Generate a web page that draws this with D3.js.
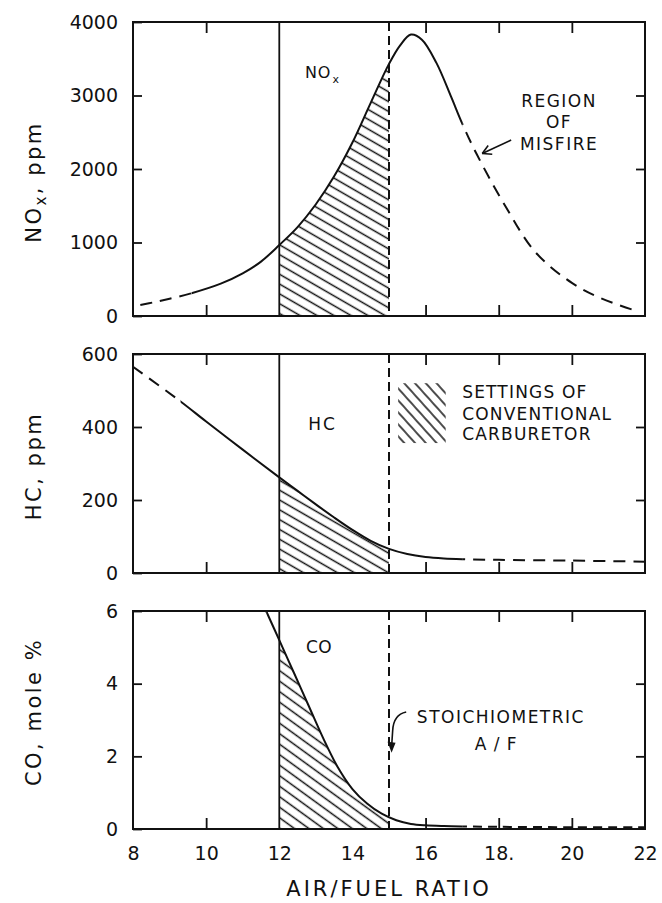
<!DOCTYPE html>
<html><head><meta charset="utf-8">
<script src="https://cdn.jsdelivr.net/npm/d3@7"></script>
<style>
body{margin:0;background:#fff}
text{font-family:"DejaVu Sans",sans-serif;fill:#111}
</style>
</head><body>
<svg id="c" width="662" height="903"></svg>
<script>
// ---------- data ----------
const afrTicks = [8, 10, 12, 14, 16, 18, 20, 22];
const afrTickLabels = ["8", "10", "12", "14", "16", "18.", "20", "22"];
const frameTicksX = [10, 16, 18, 20];
const richLimit = 12;     // solid vertical line
const stoichAF = 15;      // dashed vertical line

const noxX   = [8.2, 8.6, 9.0, 9.6, 10.4, 11.0, 11.5, 12.0, 12.5, 13.0, 13.5, 14.0, 14.5, 15.0, 15.3, 15.6, 15.9, 16.3, 16.7, 17.0, 17.4, 18.2, 19.0, 20.0, 20.8, 21.7];
const noxPpm = [150, 190, 235, 310, 440, 580, 740, 965, 1210, 1520, 1900, 2360, 2900, 3430, 3680, 3830, 3760, 3440, 2980, 2620, 2200, 1480, 870, 450, 240, 80];
const noxSolid = [9.6, 17.0];
const noxTicks = [0, 1000, 2000, 3000, 4000];
const noxInner = [1000, 2000, 3000];

const hcX   = [8.0, 9.3, 10.0, 11.0, 12.0, 12.5, 13.0, 13.5, 14.0, 14.5, 15.0, 15.5, 16.0, 16.5, 17.0, 18.0, 20.0, 22.0];
const hcPpm = [565, 470, 415, 338, 262, 225, 188, 152, 118, 88, 66, 52, 44, 40, 38, 36, 34, 31];
const hcSolid = [9.3, 17.0];
const hcTicks = [0, 200, 400, 600];
const hcInner = [200, 400];

const coX   = [11.64, 12.0, 12.4, 12.8, 13.2, 13.6, 14.0, 14.4, 14.8, 15.2, 15.6, 16.0, 16.5, 17.0, 18.0, 20.0, 22.0];
const coPct = [6.0, 5.2, 4.3, 3.4, 2.5, 1.7, 1.1, 0.7, 0.42, 0.24, 0.14, 0.1, 0.08, 0.07, 0.06, 0.05, 0.05];
const coSolid = [11.64, 17.0];
const coTicks = [0, 2, 4, 6];
const coInner = [2, 4];

// ---------- layout ----------
const svg = d3.select("#c");
const X0 = 133, X1 = 645;
const x = d3.scaleLinear().domain([8, 22]).range([X0, X1]);
const defs = svg.append("defs");
const ink = "#111";
const smooth = d3.curveCatmullRom.alpha(0.5);

function hatch(id, angle, gap) {
  const p = defs.append("pattern").attr("id", id)
    .attr("patternUnits", "userSpaceOnUse")
    .attr("width", gap).attr("height", gap)
    .attr("patternTransform", `rotate(${angle})`);
  p.append("line").attr("x1", -1).attr("x2", gap + 1)
    .attr("y1", gap / 2).attr("y2", gap / 2)
    .attr("stroke", ink).attr("stroke-width", 1.5);
}
hatch("hNox", 30, 8.5);
hatch("hHc", 30, 8.5);
hatch("hCo", 36, 8.5);
hatch("hLeg", 48, 8);

function clipRect(id, x0, x1, top, bottom) {
  defs.append("clipPath").attr("id", id).append("rect")
    .attr("x", x0).attr("y", top - 2).attr("width", x1 - x0).attr("height", bottom - top + 4);
}

function panel(cfg) {
  const y = d3.scaleLinear().domain(cfg.domain).range([cfg.bottom, cfg.top]);
  const g = svg.append("g");
  const pts = cfg.xs.map((d, i) => [d, cfg.vs[i]]);

  // hatched region between rich limit and stoichiometric
  clipRect(cfg.id + "H", x(richLimit), x(stoichAF), cfg.top, cfg.bottom);
  const area = d3.area().x(d => x(d[0])).y0(y(0)).y1(d => y(d[1])).curve(smooth);
  g.append("path").datum(pts).attr("d", area)
    .attr("fill", `url(#${cfg.hatch})`).attr("clip-path", `url(#${cfg.id}H)`);

  // curve: solid and dashed pieces
  const line = d3.line().x(d => x(d[0])).y(d => y(d[1])).curve(smooth);
  clipRect(cfg.id + "S", x(cfg.solid[0]), x(cfg.solid[1]), cfg.top, cfg.bottom);
  clipRect(cfg.id + "DL", X0, x(cfg.solid[0]), cfg.top, cfg.bottom);
  clipRect(cfg.id + "DR", x(cfg.solid[1]), X1, cfg.top, cfg.bottom);
  g.append("path").datum(pts).attr("d", line).attr("fill", "none")
    .attr("stroke", ink).attr("stroke-width", 2).attr("clip-path", `url(#${cfg.id}S)`);
  ["DL", "DR"].forEach(k => {
    g.append("path").datum(pts).attr("d", line).attr("fill", "none")
      .attr("stroke", ink).attr("stroke-width", 2).attr("stroke-dasharray", cfg.dash)
      .attr("clip-path", `url(#${cfg.id}${k})`);
  });

  // vertical reference lines
  g.append("line").attr("x1", x(richLimit)).attr("x2", x(richLimit))
    .attr("y1", cfg.top).attr("y2", cfg.bottom).attr("stroke", ink).attr("stroke-width", 1.8);
  g.append("line").attr("x1", x(stoichAF)).attr("x2", x(stoichAF))
    .attr("y1", cfg.top).attr("y2", cfg.bottom).attr("stroke", ink).attr("stroke-width", 2)
    .attr("stroke-dasharray", "9,5");

  // axes (inward ticks)
  const la = g.append("g").attr("transform", `translate(${X0},0)`)
    .call(d3.axisLeft(y).tickValues(cfg.ticks).tickSize(-9).tickPadding(15).tickFormat(d => String(d)));
  const ra = g.append("g").attr("transform", `translate(${X1},0)`)
    .call(d3.axisRight(y).tickValues(cfg.inner).tickSize(-9).tickFormat(""));
  const ta = g.append("g").attr("transform", `translate(0,${cfg.top})`)
    .call(d3.axisTop(x).tickValues(frameTicksX).tickSize(-11).tickFormat(""));
  const ba = g.append("g").attr("transform", `translate(0,${cfg.bottom})`)
    .call(d3.axisBottom(x).tickValues(frameTicksX).tickSize(-11).tickFormat(""));
  [la, ra, ta, ba].forEach(a => {
    a.select(".domain").remove();
    a.selectAll(".tick line").attr("stroke", ink).attr("stroke-width", 1.8);
    a.selectAll("text").attr("font-size", 19).attr("fill", ink)
      .style("font-family", '"DejaVu Sans",sans-serif');
  });

  // frame
  g.append("rect").attr("x", X0).attr("y", cfg.top)
    .attr("width", X1 - X0).attr("height", cfg.bottom - cfg.top)
    .attr("fill", "none").attr("stroke", ink).attr("stroke-width", 2);

  // y title
  const t = g.append("text").attr("text-anchor", "middle")
    .attr("transform", `translate(41,${cfg.titleY}) rotate(-90)`)
    .attr("font-size", 21).attr("letter-spacing", 2.5);
  cfg.title(t);
  return y;
}

const yNox = panel({id: "nox", top: 22, bottom: 316, domain: [0, 4000], xs: noxX, vs: noxPpm,
  solid: noxSolid, ticks: noxTicks, inner: noxInner, hatch: "hNox", dash: "12,8", titleY: 182,
  title: t => { t.append("tspan").text("NO"); t.append("tspan").attr("font-size", 15).attr("dy", 5).text("x");
                t.append("tspan").attr("dy", -5).text(", ppm"); }});
const yHc = panel({id: "hc", top: 354, bottom: 573, domain: [0, 600], xs: hcX, vs: hcPpm,
  solid: hcSolid, ticks: hcTicks, inner: hcInner, hatch: "hHc", dash: "12,8", titleY: 466,
  title: t => t.text("HC, ppm") });
const yCo = panel({id: "co", top: 611, bottom: 829, domain: [0, 6], xs: coX, vs: coPct,
  solid: coSolid, ticks: coTicks, inner: coInner, hatch: "hCo", dash: "9,6", titleY: 712,
  title: t => t.text("CO, mole %") });

// x tick labels and title
const xa = svg.append("g").attr("transform", "translate(0,829)")
  .call(d3.axisBottom(x).tickValues(afrTicks).tickSize(0).tickPadding(18)
    .tickFormat((d, i) => afrTickLabels[i]));
xa.select(".domain").remove();
xa.selectAll("text").attr("font-size", 19).attr("fill", ink).style("font-family", '"DejaVu Sans",sans-serif');
svg.append("text").attr("x", x(15)).attr("y", 896).attr("text-anchor", "middle")
  .attr("font-size", 21).attr("letter-spacing", 3).text("AIR/FUEL RATIO");

// ---------- annotations ----------
function label(txt, xv, yv, yScale, opts = {}) {
  return svg.append("text").attr("x", x(xv)).attr("y", yScale(yv))
    .attr("text-anchor", opts.anchor || "start").attr("font-size", opts.size || 17)
    .attr("letter-spacing", opts.ls == null ? 1 : opts.ls).text(txt);
}
// NOx label
const nl = label("NO", 12.7, 3240, yNox, {size: 16});
nl.append("tspan").attr("font-size", 11).attr("dx", 1).attr("dy", 5).text("x");
// Misfire
label("REGION", 19.65, 2842, yNox, {anchor: "middle", ls: 1.5});
label("OF", 19.65, 2557, yNox, {anchor: "middle", ls: 1.5});
label("MISFIRE", 19.65, 2258, yNox, {anchor: "middle", ls: 1.5});
{
  const tx = x(18.34), ty = yNox(2394), hx = x(17.55), hy = yNox(2210);
  svg.append("line").attr("x1", tx).attr("y1", ty).attr("x2", hx).attr("y2", hy)
    .attr("stroke", ink).attr("stroke-width", 1.6);
  const ang = Math.atan2(ty - hy, tx - hx);
  [0.5, -0.5].forEach(da => {
    svg.append("line").attr("x1", hx).attr("y1", hy)
      .attr("x2", hx + 10 * Math.cos(ang + da)).attr("y2", hy + 10 * Math.sin(ang + da))
      .attr("stroke", ink).attr("stroke-width", 1.6);
  });
}
// HC label + legend
label("HC", 12.79, 392, yHc, {size: 17, ls: 2});
svg.append("rect").attr("x", x(15.25)).attr("y", yHc(520))
  .attr("width", x(16.55) - x(15.25)).attr("height", yHc(356) - yHc(520))
  .attr("fill", "url(#hLeg)");
label("SETTINGS OF", 17.0, 480, yHc, {ls: 1.2});
label("CONVENTIONAL", 17.0, 419, yHc, {ls: 1.2});
label("CARBURETOR", 17.0, 364, yHc, {ls: 1.2});
// CO label + stoichiometric
label("CO", 12.73, 4.84, yCo, {size: 17, ls: 0.5});
label("STOICHIOMETRIC", 18.06, 2.92, yCo, {anchor: "middle", ls: 1.5});
label("A / F", 17.93, 2.17, yCo, {anchor: "middle", ls: 1});
{
  const p = d3.path();
  p.moveTo(x(15.47), yCo(3.22));
  p.quadraticCurveTo(x(15.12), yCo(3.15), x(15.1), yCo(2.7));
  p.lineTo(x(15.07), yCo(2.25));
  svg.append("path").attr("d", p.toString()).attr("fill", "none").attr("stroke", ink).attr("stroke-width", 1.6);
  const hx = x(15.07), hy = yCo(2.1);
  svg.append("path").attr("d", `M${hx},${hy}L${hx - 4},${hy - 11}L${hx + 4},${hy - 10}Z`).attr("fill", ink);
}
</script>
</body></html>
